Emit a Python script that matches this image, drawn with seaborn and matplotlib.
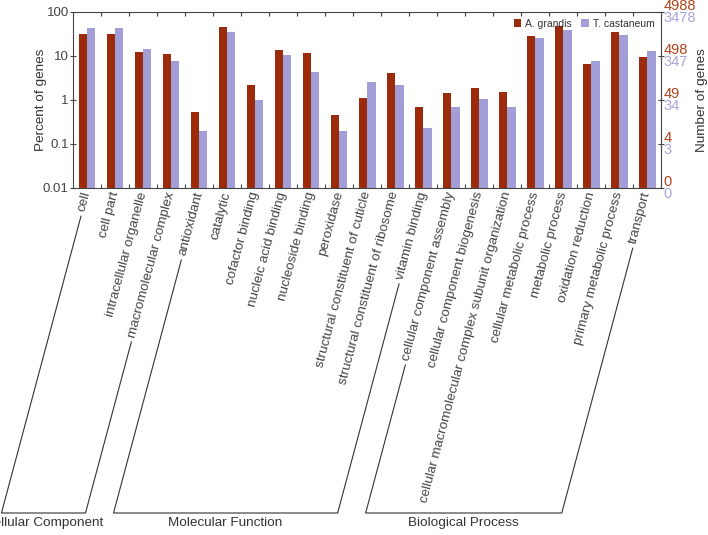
import numpy as np
import pandas as pd
import matplotlib
matplotlib.use('Agg')
import matplotlib.pyplot as plt
from matplotlib.lines import Line2D
from matplotlib.transforms import blended_transform_factory
import seaborn as sns

# GO terms, grouped by ontology
terms = ['cell', 'cell part', 'intracellular organelle', 'macromolecular complex',
         'antioxidant', 'catalytic', 'cofactor binding', 'nucleic acid binding',
         'nucleoside binding', 'peroxidase', 'structural constituent of cuticle',
         'structural constituent of ribosome', 'vitamin binding',
         'cellular component assembly', 'cellular component biogenesis',
         'cellular macromolecular complex subunit organization',
         'cellular metabolic process', 'metabolic process', 'oxidation reduction',
         'primary metabolic process', 'transport']
groups = ['Cellular Component'] * 4 + ['Molecular Function'] * 9 + ['Biological Process'] * 8
group_names = ['Cellular Component', 'Molecular Function', 'Biological Process']

# percent of genes
agrandis = [31.6, 31.6, 12.5, 10.7, 0.52, 44.8, 2.15, 13.4, 11.3, 0.46, 1.07,
            3.96, 0.68, 1.39, 1.87, 1.47, 28.5, 46.4, 6.5, 35.0, 9.3]
tcastaneum = [42.5, 42.5, 13.9, 7.7, 0.20, 35.0, 1.0, 10.2, 4.3, 0.20, 2.5,
              2.12, 0.227, 0.69, 1.05, 0.67, 25.2, 39.0, 7.7, 29.5, 12.8]
species = ['A. grandis', 'T. castaneum']

# right axis: number of genes at each decade
decades = [100, 10, 1, 0.1, 0.01]
agr_counts = ['4988', '498', '49', '4', '0']
tca_counts = ['3478', '347', '34', '3', '0']

red = '#9C2B0C'
purple = '#A29ED8'
red_txt = '#B4441C'
purple_txt = '#A9A4DC'
txt = '#333333'

sns.set_style('white')
plt.rcParams['font.family'] = ['Liberation Sans', 'DejaVu Sans']
plt.rcParams['text.color'] = txt
plt.rcParams['axes.labelcolor'] = txt
plt.rcParams['xtick.color'] = '#444444'
plt.rcParams['ytick.color'] = '#444444'

df = pd.DataFrame({'term': terms * 2,
                   'percent': agrandis + tcastaneum,
                   'species': [species[0]] * len(terms) + [species[1]] * len(terms)})

fig = plt.figure(figsize=(7.08, 5.35), dpi=100)
ax = fig.add_axes([0.103, 0.649, 0.831, 0.329])
ax.set_yscale('log')
sns.barplot(data=df, x='term', y='percent', hue='species', order=terms,
            palette=[red, purple], width=0.6, saturation=1, ax=ax,
            linewidth=0, errorbar=None)
ax.set_ylim(0.01, 100)
ax.set_xlim(-0.5, len(terms) - 0.5)

for s in ax.spines.values():
    s.set_color('#444444')
    s.set_linewidth(0.8)

ax.set_yticks(decades)
ax.set_yticklabels(['100', '10', '1', '0.1', '0.01'])
ax.yaxis.set_minor_locator(matplotlib.ticker.NullLocator())
ax.tick_params(axis='y', which='major', direction='inout', length=4, width=0.8,
               left=True, right=True, labelsize=9.5, pad=1)

ax.set_xticks(range(len(terms)))
ax.set_xticks(np.arange(0.5, len(terms) - 1), minor=True)
ax.tick_params(axis='x', which='major', length=0, pad=3)
ax.tick_params(axis='x', which='minor', direction='in', length=3, width=0.8,
               top=True, bottom=True)
ax.set_xticklabels(terms, rotation=75, ha='right', va='center',
                   rotation_mode='anchor', fontsize=9.7)
ax.set_xlabel('')
ax.set_ylabel('')

fig.text(0.058, 0.813, 'Percent of genes', rotation=90, ha='center', va='center',
         fontsize=9.7)
fig.text(0.992, 0.813, 'Number of genes', rotation=90, ha='center', va='center',
         fontsize=9.7)

trans = blended_transform_factory(ax.transAxes, ax.transData)
for v, a, t in zip(decades, agr_counts, tca_counts):
    ax.annotate(a, xy=(1, v), xycoords=trans, xytext=(1.5, 4.5),
                textcoords='offset points', ha='left', va='center',
                color=red_txt, fontsize=10.5, annotation_clip=False)
    ax.annotate(t, xy=(1, v), xycoords=trans, xytext=(1.5, -4.5),
                textcoords='offset points', ha='left', va='center',
                color=purple_txt, fontsize=10.5, annotation_clip=False)

ax.legend(loc='upper right', ncol=2, frameon=False, fontsize=7.5,
          handlelength=0.7, handleheight=0.7, columnspacing=0.9,
          handletextpad=0.4, borderaxespad=0.25, labelcolor=txt)

# brackets under the tick labels, one per ontology
fig.canvas.draw()
renderer = fig.canvas.get_renderer()
labels = ax.get_xticklabels()
theta = np.deg2rad(75)
y_bot = 22.0
to_fig = fig.transFigure.inverted()
ax_bottom = ax.transAxes.transform((0, 0))[1]
pad_px = 3 * fig.dpi / 72


def leg_line(i):
    x_tick = ax.transData.transform((i, 0.01))[0]
    y_anchor = ax_bottom - 2 - pad_px
    y_top = labels[i].get_window_extent(renderer).y0 - 3
    x_top = x_tick - (y_anchor - y_top) / np.tan(theta)
    x_low = x_tick - (y_anchor - y_bot) / np.tan(theta)
    return (x_top, y_top), (x_low, y_bot)


for g in group_names:
    idx = [i for i, gg in enumerate(groups) if gg == g]
    (xa, ya), (xb, yb) = leg_line(idx[0])
    (xc, yc), (xd, yd) = leg_line(idx[-1])
    pts = to_fig.transform([(xa, ya), (xb, yb), (xd, yd), (xc, yc)])
    fig.add_artist(Line2D(pts[:, 0], pts[:, 1], color='#333333', lw=0.8,
                          transform=fig.transFigure))
    xm = to_fig.transform(((xb + xd) / 2, 0))[0]
    fig.text(xm, 12 / 535, g, ha='center', va='center', fontsize=9.7)

fig.savefig('out.png', dpi=100)
